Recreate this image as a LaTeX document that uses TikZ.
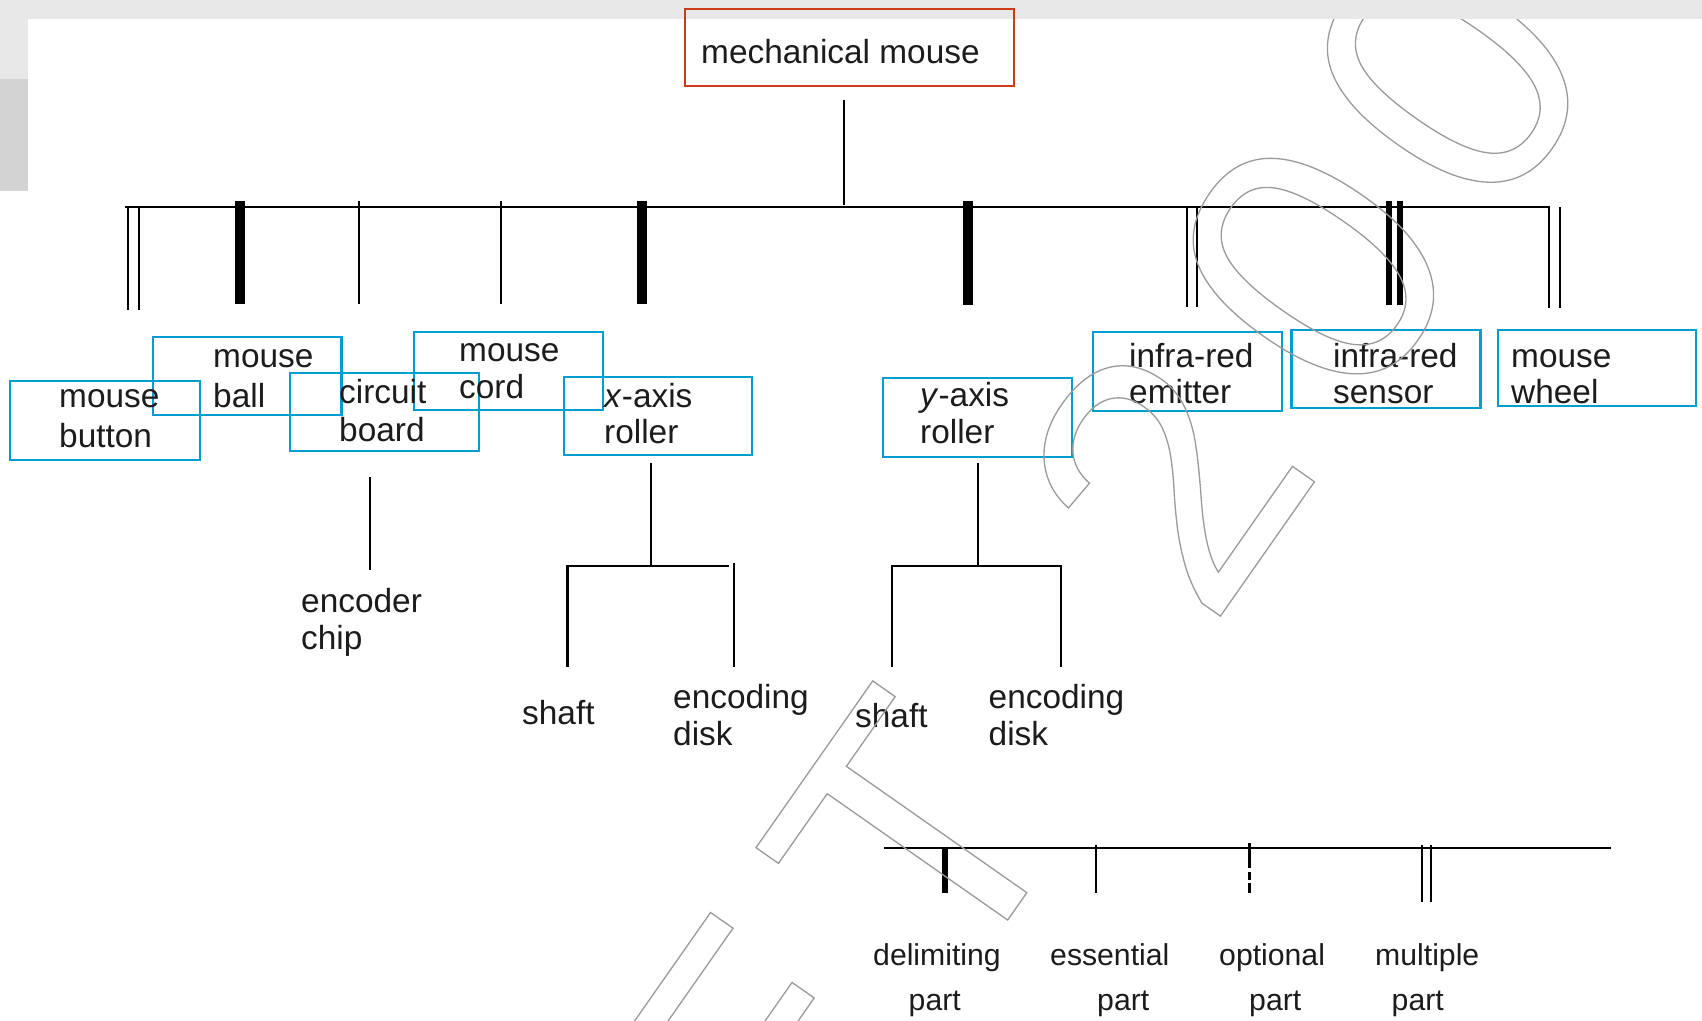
\documentclass[tikz,border=0pt]{standalone}
\usepackage{fontspec}
\setmainfont{Liberation Sans}

\definecolor{partblue}{RGB}{0,157,207}
\definecolor{rootred}{RGB}{204,58,24}
\definecolor{ink}{RGB}{28,28,28}
\definecolor{wmgray}{RGB}{155,155,155}
\definecolor{bandgray}{RGB}{232,232,232}
\definecolor{blockgray}{RGB}{211,211,211}

% two-line label: baseline skip, first line, indent of second line, second line
\newcommand\twolines[4]{\vtop{\baselineskip=#1pt\hbox{#2}\hbox{\kern#3pt#4}}}

\tikzset{
  lbl/.style={anchor=base west, inner sep=0pt, text=ink,
              font=\fontsize{33.4}{37}\selectfont},
  key/.style={lbl, font=\fontsize{30.2}{45}\selectfont},
  partbox/.style={draw=partblue, line width=2.2pt, inner sep=0pt},
  rootbox/.style={draw=rootred, line width=2pt, inner sep=0pt},
  single/.style={draw=black, line width=2.2pt},
  twin/.style={draw=black, line width=2pt},
  heavy/.style={draw=black, line width=10pt},
  medium/.style={draw=black, line width=6.5pt},
  bar/.style={draw=black, line width=2.6pt, line join=miter},
  wmglyph/.style={anchor=base west, inner sep=0pt, rotate=55, text=wmgray,
              font=\fontsize{360}{400}\selectfont,
              execute at begin node={\special{pdf:literal direct 1 Tr 1.3 w 0.61 0.61 0.61 RG}},
              execute at end node={\special{pdf:literal direct 0 Tr}}},
}

\begin{document}
\begin{tikzpicture}[x=1pt,y=-1pt]
\useasboundingbox (0,0) rectangle (1702,1020);
\fill[white] (0,0) rectangle (1702,1020);

% ---- window chrome ----
\fill[bandgray] (0,0) rectangle (1702,19);
\fill[bandgray] (0,0) rectangle (28,191);
\fill[blockgray] (0,79) rectangle (28,191);

% ---- root ----
\node[rootbox, minimum width=329pt, minimum height=77pt] (root) at (849.2,47.3) {};
\node[lbl] (root-t) at (701,63) {mechanical mouse};
\coordinate (stem-top) at (844,100);
\coordinate (stem-bot) at (844,205);
\draw[single, line width=1.8pt] (stem-top) -- (stem-bot);

% ---- main bar ----
\coordinate (bar-w) at (125,207);
\coordinate (bar-e) at (1549,207);
\coordinate (wheel-a) at (1549,308);
\draw[bar] (bar-w) -- (bar-e) -- (wheel-a);

% ---- part ticks ----
\coordinate (button-a) at (128,207);
\coordinate (button-b) at (139,207);
\draw[twin] (button-a) -- ++(0,103);
\draw[twin] (button-b) -- ++(0,103);
\coordinate (ball-t) at (240,201);
\draw[heavy] (ball-t) -- ++(0,103);
\coordinate (circuit-t) at (359,201);
\draw[single] (circuit-t) -- ++(0,103);
\coordinate (cord-t) at (501,201);
\draw[single] (cord-t) -- ++(0,103);
\coordinate (xroll-t) at (641.5,201);
\draw[heavy] (xroll-t) -- ++(0,103);
\coordinate (yroll-t) at (968,201);
\draw[heavy] (yroll-t) -- ++(0,104);
\coordinate (emit-a) at (1187,207);
\coordinate (emit-b) at (1197,207);
\draw[twin] (emit-a) -- ++(0,100);
\draw[twin] (emit-b) -- ++(0,100);
\coordinate (sens-a) at (1389,201);
\coordinate (sens-b) at (1400,201);
\draw[medium] (sens-a) -- ++(0,104);
\draw[medium] (sens-b) -- ++(0,104);
\coordinate (wheel-b) at (1560,207);
\draw[twin] (wheel-b) -- ++(0,101);

% ---- part boxes ----
\node[partbox, minimum width=190pt, minimum height=79pt] (b-button)  at (105,420.5) {};
\node[partbox, minimum width=188.5pt, minimum height=78pt] (b-ball)  at (247.3,376) {};
\node[partbox, minimum width=189pt, minimum height=78pt] (b-circuit) at (384.5,412) {};
\node[partbox, minimum width=189pt, minimum height=78pt] (b-cord)    at (508.5,371) {};
\node[partbox, minimum width=188pt, minimum height=78pt] (b-xroll)   at (658,416) {};
\node[partbox, minimum width=189pt, minimum height=79pt] (b-yroll)   at (977.5,417.5) {};
\node[partbox, minimum width=189pt, minimum height=79pt] (b-emit)    at (1187.5,371.5) {};
\node[partbox, minimum width=189pt, minimum height=78pt] (b-sens)    at (1386,369) {};
\node[partbox, minimum width=198pt, minimum height=76pt] (b-wheel)   at (1597,368) {};

% ---- part names ----
\node[lbl] (t-button)  at (59,407)   {\twolines{40}{mouse}{0}{button}};
\node[lbl] (t-ball)    at (213,367)  {\twolines{40}{mouse}{0}{ball}};
\node[lbl] (t-circuit) at (339,403)  {\twolines{38}{circuit}{0}{board}};
\node[lbl] (t-cord)    at (459,361)  {\twolines{37}{mouse}{0}{cord}};
\node[lbl] (t-xroll)   at (604,407)  {\twolines{36}{\textit{x}-axis}{0}{roller}};
\node[lbl] (t-yroll)   at (920,406)  {\twolines{37}{\textit{y}-axis}{0}{roller}};
\node[lbl] (t-emit)    at (1129,367) {\twolines{36}{infra-red}{0}{emitter}};
\node[lbl] (t-sens)    at (1333,367) {\twolines{36}{infra-red}{0}{sensor}};
\node[lbl] (t-wheel)   at (1511,367) {\twolines{36}{mouse}{0}{wheel}};

% ---- sub-parts ----
\coordinate (circuit-s) at (370,477);
\coordinate (chip-s) at (370,570);
\draw[single] (circuit-s) -- (chip-s);
\node[lbl] (t-chip) at (301,612) {\twolines{37}{encoder}{0}{chip}};

\coordinate (xr-s) at (651,463);
\coordinate (xr-j) at (651,566);
\coordinate (xs-l) at (567.5,667);
\coordinate (xs-r) at (729,566);
\coordinate (xd-t) at (734,563);
\coordinate (xd-b) at (734,667);
\draw[single] (xr-s) -- (xr-j);
\draw[single] (xs-l) |- (xs-r);
\draw[single] (xd-t) -- (xd-b);
\node[lbl] (t-shaft-x) at (522,724) {shaft};
\node[lbl] (t-disk-x)  at (673,708) {\twolines{37}{encoding}{0}{disk}};

\coordinate (yr-s) at (978,463);
\coordinate (yr-j) at (978,566);
\coordinate (ys-l) at (892,667);
\coordinate (yd-b) at (1061,667);
\draw[single] (yr-s) -- (yr-j);
\draw[single] (ys-l) |- (yr-j) -| (yd-b);
\node[lbl] (t-shaft-y) at (855,727) {shaft};
\node[lbl] (t-disk-y)  at (988.5,708) {\twolines{37}{encoding}{0}{disk}};

% ---- key ----
\coordinate (key-w) at (884,848);
\coordinate (key-e) at (1611,848);
\draw[bar] (key-w) -- (key-e);
\coordinate (k-delim-t) at (945,848);
\draw[black, line width=5.5pt] (k-delim-t) -- ++(0,45);
\coordinate (k-ess-t) at (1096,845);
\draw[single] (k-ess-t) -- ++(0,48);
\coordinate (k-opt-t) at (1249.5,843);
\draw[single, dash pattern=on 25pt off 4pt on 8pt off 3pt] (k-opt-t) -- ++(0,50);
\coordinate (k-mult-a) at (1422,845);
\coordinate (k-mult-b) at (1430.5,845);
\draw[twin] (k-mult-a) -- ++(0,57);
\draw[twin] (k-mult-b) -- ++(0,57);

\node[key] (k-delim) at (873,965)  {\twolines{45}{delimiting}{35.5}{part}};
\node[key] (k-ess)   at (1050,965) {\twolines{45}{essential}{47}{part}};
\node[key] (k-opt)   at (1219,965) {\twolines{45}{optional}{30}{part}};
\node[key] (k-mult)  at (1375,965) {\twolines{45}{multiple}{16.5}{part}};

% ---- outlined stamp lettering, kept below the top band ----
\begin{scope}
\clip (0,19) rectangle (1702,1020);
\node[wmglyph] (wm-e)  at (788.6,1232.8) {E};
\node[wmglyph] (wm-t)  at (954.1,996.5)  {T};
\node[wmglyph] (wm-2)  at (1209.9,631.1) {2};
\node[wmglyph] (wm-0a) at (1357.9,419.7) {0};
\node[wmglyph] (wm-0b) at (1492.1,228.1) {0};
\end{scope}
\end{tikzpicture}
\end{document}
